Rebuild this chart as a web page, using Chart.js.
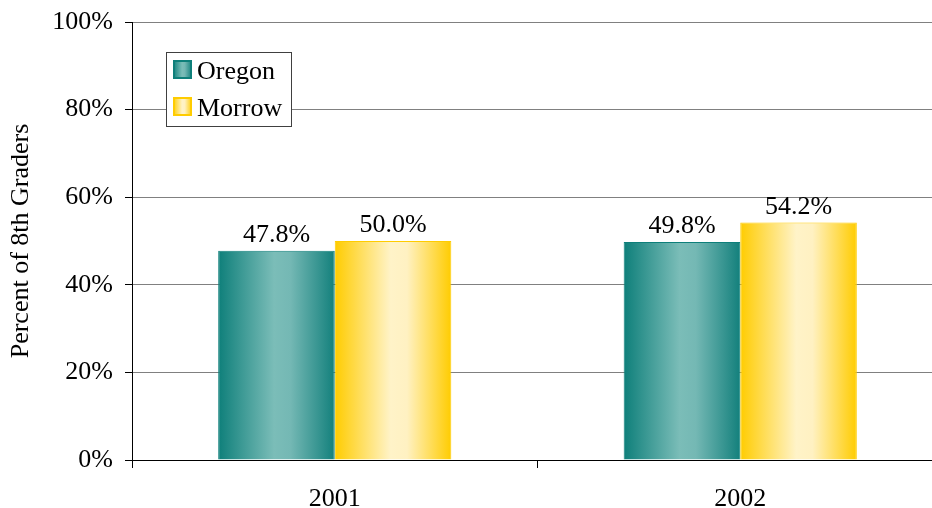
<!DOCTYPE html>
<html>
<head>
<meta charset="utf-8">
<script src="https://cdn.jsdelivr.net/npm/chart.js@4.4.1/dist/chart.umd.min.js"></script>
<style>
  html, body { margin: 0; padding: 0; background: #fff; overflow: hidden; }
  #wrap { width: 932px; height: 508px; overflow: hidden; }
</style>
</head>
<body>
<div id="wrap"><canvas id="myChart" width="943" height="508"></canvas></div>
<script>
const categories = ['2001', '2002'];
const oregon = [47.8, 49.8];
const morrow = [50.0, 54.2];
const seriesNames = ['Oregon', 'Morrow'];
const yTicks = [0, 20, 40, 60, 80, 100];

const CAT_PCT = 0.575;
const FONT = '"Liberation Serif", "Times New Roman", Times, serif';

const oregonStops = [[0, '#0e7f7a'], [0.48, '#7bbdb8'], [0.62, '#74b8b4'], [1, '#13807c']];
const morrowStops = [[0, '#ffcc00'], [0.48, '#fff3c8'], [0.62, '#fff1c2'], [1, '#ffcc00']];

// horizontal gradient per bar, worked out from the category scale
function barGradient(stops) {
  return (c) => {
    const chart = c.chart;
    const xs = chart.scales.x;
    if (!xs || !chart.chartArea || c.dataIndex === undefined) return stops[0][1];
    const center = xs.getPixelForValue(c.dataIndex);
    const catW = xs.width / categories.length;
    const barW = catW * CAT_PCT / 2;
    const left = center - catW * CAT_PCT / 2 + c.datasetIndex * barW;
    const g = chart.ctx.createLinearGradient(left, 0, left + barW, 0);
    stops.forEach(s => g.addColorStop(s[0], s[1]));
    return g;
  };
}

const valueLabels = {
  id: 'valueLabels',
  afterDatasetsDraw(chart) {
    const ctx = chart.ctx;
    ctx.save();
    ctx.font = '26px ' + FONT;
    ctx.fillStyle = '#000';
    ctx.textAlign = 'center';
    ctx.textBaseline = 'alphabetic';
    chart.data.datasets.forEach((ds, i) => {
      chart.getDatasetMeta(i).data.forEach((bar, j) => {
        ctx.fillText(ds.data[j].toFixed(1) + '%', bar.x, bar.y - 9);
      });
    });
    ctx.restore();
  }
};

const legendBox = {
  id: 'legendBox',
  afterDatasetsDraw(chart) {
    const ctx = chart.ctx;
    ctx.save();
    ctx.fillStyle = '#fff';
    ctx.fillRect(166, 52, 125, 74);
    ctx.strokeStyle = '#404040';
    ctx.lineWidth = 1;
    ctx.strokeRect(166.5, 52.5, 125, 74);
    ctx.font = '26px ' + FONT;
    ctx.textBaseline = 'alphabetic';
    const stops = [oregonStops, morrowStops];
    chart.data.datasets.forEach((ds, i) => {
      const y = 60 + i * 37;
      const g = ctx.createLinearGradient(173, 0, 192, 0);
      stops[i].forEach(s => g.addColorStop(s[0], s[1]));
      ctx.fillStyle = g;
      ctx.fillRect(173, y, 19, 19);
      ctx.strokeStyle = stops[i][0][1];
      ctx.lineWidth = 2;
      ctx.strokeRect(174, y + 1, 17, 17);
      ctx.fillStyle = '#000';
      ctx.fillText(ds.label, 197, y + 19);
    });
    ctx.restore();
  }
};

function draw() {
  new Chart(document.getElementById('myChart'), {
    type: 'bar',
    plugins: [valueLabels, legendBox],
    data: {
      labels: categories,
      datasets: [
        {
          label: seriesNames[0],
          data: oregon,
          backgroundColor: barGradient(oregonStops),
          borderColor: '#0e7f7a',
          borderWidth: 1,
          categoryPercentage: CAT_PCT,
          barPercentage: 1
        },
        {
          label: seriesNames[1],
          data: morrow,
          backgroundColor: barGradient(morrowStops),
          borderColor: '#ffcc00',
          borderWidth: 1,
          categoryPercentage: CAT_PCT,
          barPercentage: 1
        }
      ]
    },
    options: {
      responsive: false,
      animation: false,
      layout: { padding: { top: 22, right: 0, left: 0, bottom: 0 } },
      plugins: {
        legend: { display: false },
        tooltip: { enabled: false },
        title: { display: false }
      },
      scales: {
        x: {
          afterFit: (s) => { s.height = 48; s.paddingLeft = 0; s.paddingRight = 0; },
          grid: {
            display: true,
            offset: true,
            drawOnChartArea: false,
            tickLength: 8,
            color: '#000',
            tickColor: '#000'
          },
          border: { display: true, color: '#000', width: 1 },
          ticks: {
            color: '#000',
            font: { family: FONT, size: 26 },
            padding: 16
          }
        },
        y: {
          min: 0,
          max: 100,
          afterFit: (s) => { s.width = 132; s.paddingTop = 0; s.paddingBottom = 0; },
          afterBuildTicks: (s) => { s.ticks = yTicks.map(v => ({ value: v })); },
          grid: {
            color: (c) => c.tick && c.tick.value === 0 ? '#000' : '#808080',
            tickColor: '#000',
            tickLength: 7
          },
          border: { display: true, color: '#000', width: 1 },
          ticks: {
            color: '#000',
            font: { family: FONT, size: 26 },
            padding: 12,
            callback: (v) => v + '%'
          },
          title: {
            display: true,
            text: 'Percent of 8th Graders',
            color: '#000',
            font: { family: FONT, size: 26 },
            padding: { top: 6, bottom: 0 }
          }
        }
      }
    }
  });
}

document.fonts.load('26px "Liberation Serif"').then(draw, draw);
</script>
</body>
</html>
